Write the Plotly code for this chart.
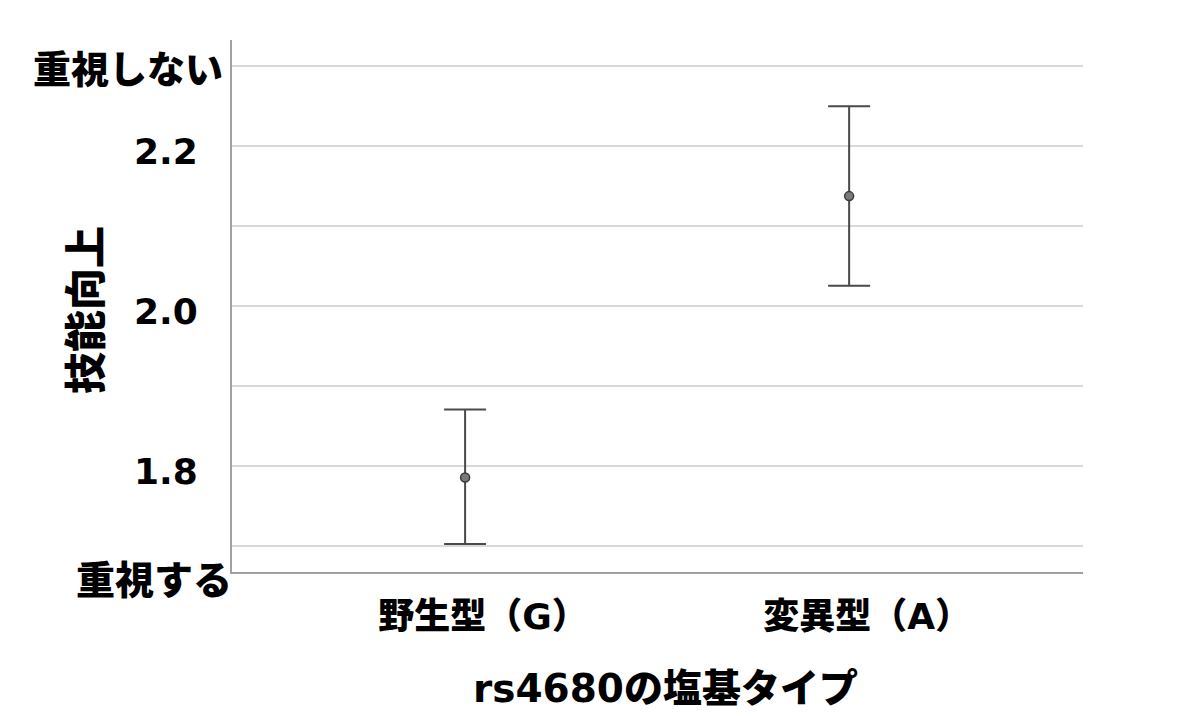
import plotly.graph_objects as go

categories = ["野生型（G）", "変異型（A）"]
means = [1.786, 2.1375]
ci_upper = [1.871, 2.2496]
ci_lower = [1.703, 2.0254]
tick_vals = [1.7, 1.8, 1.9, 2.0, 2.1, 2.2, 2.3]
tick_text = ["", "1.8", "", "2.0", "", "2.2", ""]
x_title = "rs4680の塩基タイプ"
y_title = "技能向上"
top_label = "重視しない"
bottom_label = "重視する"

FONT = "DejaVu Sans, Noto Sans CJK JP"
BOLD_JP = "Noto Sans CJK JP"

err_plus = [u - m for u, m in zip(ci_upper, means)]
err_minus = [m - l for m, l in zip(means, ci_lower)]

fig = go.Figure()
fig.add_trace(go.Scatter(
    x=categories, y=means, mode="markers",
    marker=dict(size=9, color="#7a7a7a", line=dict(color="#3a3a3a", width=1.5)),
    error_y=dict(type="data", symmetric=False, array=err_plus, arrayminus=err_minus,
                 color="#4a4a4a", thickness=2, width=21),
    showlegend=False,
))

fig.update_layout(
    width=1200, height=716,
    margin=dict(l=224, r=125, t=32, b=152),
    paper_bgcolor="white", plot_bgcolor="white",
    font=dict(family=FONT, color="black"),
    xaxis=dict(
        type="category", range=[-0.607, 1.609],
        showgrid=False, showline=True, linecolor="#a0a0a0", linewidth=2,
        ticks="", tickfont=dict(family=FONT, size=36, color="black", weight=900),
        ticklabelstandoff=12, ticklabelshift=18,
        zeroline=False,
    ),
    yaxis=dict(
        range=[1.668, 2.3325],
        tickvals=tick_vals, ticktext=tick_text,
        showgrid=True, gridcolor="#d9d9d9", gridwidth=2,
        showline=True, linecolor="#a0a0a0", linewidth=2,
        ticks="", tickfont=dict(family=FONT, size=36, color="black", weight="bold"),
        ticklabelstandoff=25, ticklabelshift=5,
        zeroline=False,
    ),
    annotations=[
        dict(text=x_title, xref="paper", yref="paper", x=0.5, y=0, xanchor="center", yanchor="middle",
             xshift=8, yshift=-116, showarrow=False,
             font=dict(family=FONT, size=39, color="black", weight=900)),
        dict(text=top_label, xref="paper", yref="y", x=0, y=2.3, xanchor="right", yanchor="middle",
             xshift=-7, showarrow=False, font=dict(family=BOLD_JP, size=38, color="black", weight=900)),
        dict(text=bottom_label, xref="paper", yref="paper", x=0, y=0, xanchor="right", yanchor="middle",
             xshift=2, yshift=-5, showarrow=False, font=dict(family=BOLD_JP, size=39, color="black", weight=900)),
        dict(text=y_title, xref="paper", yref="paper", x=0, y=0.5, xanchor="center", yanchor="middle",
             xshift=-150, yshift=-4, textangle=-90, showarrow=False,
             font=dict(family=BOLD_JP, size=42, color="black", weight=900)),
    ],
)

fig.write_html("out.html")
